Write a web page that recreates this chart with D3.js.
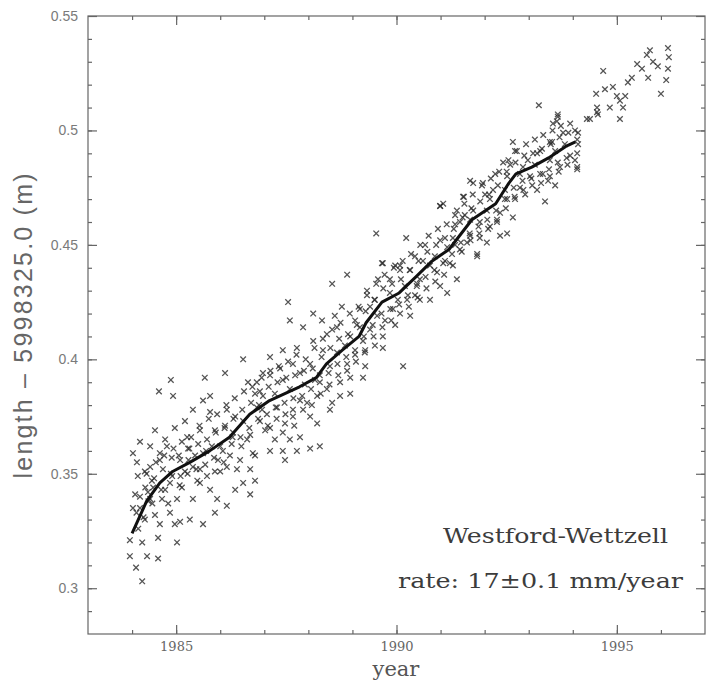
<!DOCTYPE html>
<html>
<head>
<meta charset="utf-8">
<script src="https://cdn.jsdelivr.net/npm/d3@7"></script>
<style>
  body { margin: 0; background: #fff; }
  svg { display: block; }
</style>
</head>
<body>
<div id="chart"></div>
<script>
// baseline length observations: [year, length - 5998325.0 m]
const scatterPoints = [
  [1984.23,0.303],[1984.09,0.309],[1983.95,0.314],[1984.34,0.314],[1984.59,0.313],
  [1984.23,0.320],[1984.59,0.322],[1985.02,0.320],[1984.63,0.328],[1984.97,0.328],
  [1985.09,0.329],[1985.61,0.328],[1984.52,0.332],[1984.18,0.335],[1984.02,0.335],
  [1984.86,0.333],[1985.31,0.330],[1985.88,0.333],[1986.15,0.336],[1985.02,0.339],
  [1984.82,0.337],[1985.38,0.339],[1985.93,0.339],[1986.52,0.346],[1986.38,0.352],
  [1986.00,0.351],[1985.54,0.346],[1985.13,0.344],[1984.45,0.347],[1984.13,0.349],
  [1984.18,0.340],[1984.11,0.355],[1984.41,0.353],[1984.63,0.356],[1984.02,0.359],
  [1984.18,0.364],[1984.41,0.362],[1984.63,0.359],[1984.79,0.362],[1984.52,0.369],
  [1984.97,0.370],[1985.25,0.366],[1985.54,0.369],[1985.09,0.356],[1985.38,0.353],
  [1985.70,0.349],[1986.15,0.353],[1986.61,0.365],[1986.29,0.368],[1986.00,0.362],
  [1985.61,0.359],[1986.74,0.359],[1985.77,0.377],[1986.15,0.378],[1985.38,0.378],
  [1985.61,0.382],[1986.52,0.373],[1986.83,0.379],
  [1986.52,0.400],[1986.11,0.394],[1985.65,0.392],[1984.88,0.391],[1984.61,0.386],
  [1984.93,0.384],[1986.63,0.390],[1985.77,0.384],
  [1984.29,0.330],[1984.41,0.339],[1984.75,0.343],[1984.91,0.349],[1985.20,0.351],
  [1985.43,0.358],[1985.27,0.361],[1985.81,0.362],[1985.88,0.369],[1986.11,0.371],
  [1986.34,0.375],[1985.95,0.356],[1986.22,0.358],[1986.45,0.356],[1986.68,0.352],
  [1985.20,0.373],[1984.75,0.365],[1985.54,0.352],[1985.77,0.343],[1986.34,0.343],
  [1986.68,0.341],[1986.79,0.347],[1983.95,0.321],[1984.29,0.351],[1984.36,0.342],
  [1988.54,0.433],[1987.54,0.425],[1987.58,0.417],[1988.11,0.420],[1988.60,0.419],
  [1988.76,0.423],[1987.88,0.414],[1988.31,0.417],[1988.88,0.437],[1988.95,0.392],
  [1989.24,0.392],[1988.95,0.385],[1988.54,0.381],[1988.20,0.372],[1988.04,0.375],
  [1988.26,0.362],[1988.04,0.361],[1987.74,0.360],[1987.42,0.360],[1987.13,0.360],
  [1986.79,0.358],[1987.47,0.356],[1987.81,0.366],[1987.42,0.368],[1987.13,0.370],
  [1987.65,0.375],[1987.13,0.401],[1987.42,0.404],[1987.74,0.405],[1988.11,0.408],
  [1988.42,0.411],[1988.65,0.414],[1988.95,0.410],[1988.33,0.404],[1988.65,0.403],
  [1988.88,0.398],[1988.72,0.390],[1988.42,0.387],[1988.20,0.384],[1987.97,0.381],
  [1987.65,0.378],[1987.29,0.379],[1986.97,0.384],[1986.83,0.390],[1987.13,0.393],
  [1987.42,0.391],[1987.81,0.394],[1988.04,0.398],[1987.65,0.398],[1987.36,0.396],
  [1986.97,0.394],
  [1986.90,0.373],[1987.24,0.385],[1987.58,0.387],[1987.92,0.389],[1988.26,0.393],
  [1988.49,0.397],[1987.02,0.369],[1987.81,0.382],[1988.15,0.391],[1988.49,0.378],
  [1988.72,0.384],[1987.47,0.372],[1986.79,0.385],[1986.95,0.378],[1987.24,0.365],
  [1987.58,0.365],[1988.83,0.406],[1989.06,0.402],
  [1991.83,0.446],[1991.15,0.429],[1990.15,0.397],[1989.69,0.442],[1989.29,0.397],
  [1989.69,0.410],[1989.69,0.405],[1989.17,0.414],[1989.24,0.408],[1989.33,0.430],
  [1989.85,0.429],[1989.40,0.423],[1990.08,0.439],[1990.47,0.433],[1990.24,0.426],
  [1989.92,0.422],[1989.56,0.419],[1990.60,0.443],[1990.92,0.438],[1991.21,0.442],
  [1991.37,0.435],[1990.76,0.426],[1990.31,0.419],
  [1989.54,0.455],[1990.22,0.453],[1990.99,0.467],[1991.53,0.471],[1989.67,0.442],
  [1990.08,0.441],[1990.42,0.445],[1991.67,0.478],
  [1989.17,0.422],[1989.51,0.426],[1989.85,0.435],[1989.97,0.441],[1990.31,0.439],
  [1990.53,0.435],[1990.65,0.450],[1990.87,0.445],[1990.99,0.452],[1991.10,0.443],
  [1990.76,0.441],[1991.33,0.450],[1990.19,0.432],[1990.42,0.428],[1989.74,0.417],
  [1989.97,0.415],[1989.40,0.413],[1989.06,0.417],[1989.29,0.404],[1989.51,0.406],
  [1990.53,0.426],[1990.99,0.432],[1989.58,0.435],[1990.03,0.426],
  [1993.66,0.507],[1993.55,0.503],[1994.32,0.505],[1994.55,0.508],[1993.78,0.499],
  [1993.48,0.495],[1992.64,0.495],[1992.69,0.491],[1993.26,0.491],[1993.19,0.490],
  [1994.10,0.496],[1994.10,0.490],[1994.10,0.484],[1994.10,0.483],[1992.42,0.486],
  [1992.87,0.484],[1993.03,0.480],[1992.51,0.480],[1993.32,0.481],[1993.19,0.474],
  [1992.80,0.475],[1991.74,0.477],[1991.96,0.477],[1992.19,0.474],[1993.37,0.469],
  [1992.51,0.470],[1992.12,0.470],[1991.51,0.471],[1991.37,0.465],[1991.74,0.465],
  [1992.05,0.465],[1992.35,0.464],[1992.64,0.462],[1991.89,0.460],[1991.67,0.461],
  [1991.44,0.460],[1992.12,0.458],[1992.51,0.455],[1992.35,0.454],[1991.89,0.453],
  [1991.28,0.453],[1991.60,0.451],[1991.15,0.449],[1991.83,0.445],[1992.05,0.451],
  [1991.06,0.468],[1990.99,0.467],
  [1992.46,0.474],[1992.80,0.481],[1992.98,0.487],[1993.14,0.485],[1993.48,0.487],
  [1993.60,0.491],[1993.82,0.494],[1993.94,0.489],[1993.71,0.484],[1992.24,0.481],
  [1992.01,0.472],[1991.55,0.463],[1991.33,0.459],[1992.28,0.460],[1992.69,0.470],
  [1992.92,0.472],[1993.44,0.478],[1993.60,0.476],[1994.05,0.500],[1994.12,0.494],
  [1994.05,0.487],[1992.58,0.485],[1991.67,0.454],[1991.44,0.448],
  [1996.16,0.536],[1996.18,0.532],[1995.75,0.535],[1995.68,0.533],[1995.82,0.530],
  [1995.46,0.529],[1996.16,0.527],[1995.93,0.528],[1995.71,0.523],[1995.57,0.527],
  [1995.34,0.523],[1995.25,0.521],[1996.12,0.522],[1996.00,0.516],[1994.69,0.526],
  [1994.91,0.519],[1994.73,0.518],[1994.53,0.516],[1995.00,0.515],[1995.07,0.513],
  [1995.19,0.515],[1995.14,0.510],[1994.84,0.510],[1994.55,0.510],[1994.57,0.507],
  [1994.39,0.505],[1995.07,0.505],[1993.23,0.511],[1993.66,0.506],[1993.64,0.504],
  [1993.53,0.495],[1994.12,0.499],
  // dense band close to the running mean
  [1984.10,0.333],[1984.14,0.326],[1984.07,0.341],
  [1984.30,0.344],[1984.26,0.331],[1984.33,0.350],[1984.37,0.338],
  [1984.50,0.348],[1984.46,0.337],[1984.54,0.355],[1984.48,0.344],
  [1984.70,0.352],[1984.66,0.343],[1984.73,0.358],[1984.68,0.339],
  [1984.90,0.357],[1984.86,0.346],[1984.94,0.361],[1984.88,0.350],
  [1985.10,0.349],[1985.06,0.358],[1985.13,0.364],[1985.08,0.345],
  [1985.30,0.361],[1985.26,0.350],[1985.34,0.366],[1985.28,0.356],
  [1985.50,0.363],[1985.46,0.352],[1985.53,0.371],[1985.48,0.347],
  [1985.70,0.365],[1985.66,0.354],[1985.74,0.374],[1985.68,0.360],
  [1985.90,0.368],[1985.86,0.357],[1985.93,0.376],[1985.88,0.351],
  [1986.10,0.370],[1986.06,0.360],[1986.14,0.380],[1986.08,0.355],
  [1986.30,0.374],[1986.26,0.363],[1986.33,0.383],[1986.28,0.366],
  [1986.50,0.378],[1986.46,0.366],[1986.54,0.386],[1986.48,0.362],
  [1986.70,0.381],[1986.66,0.370],[1986.73,0.388],[1986.68,0.367],
  [1986.90,0.386],[1986.86,0.374],[1986.94,0.392],[1986.88,0.380],
  [1987.10,0.388],[1987.06,0.376],[1987.14,0.395],[1987.08,0.371],
  [1987.30,0.390],[1987.26,0.379],[1987.33,0.397],[1987.28,0.374],
  [1987.50,0.392],[1987.46,0.381],[1987.54,0.399],[1987.48,0.376],
  [1987.70,0.393],[1987.66,0.383],[1987.73,0.402],[1987.68,0.371],
  [1987.90,0.395],[1987.86,0.384],[1987.94,0.400],[1987.88,0.378],
  [1988.10,0.396],[1988.06,0.387],[1988.14,0.405],[1988.08,0.380],
  [1988.30,0.401],[1988.26,0.390],[1988.33,0.409],[1988.28,0.385],
  [1988.50,0.405],[1988.46,0.394],[1988.54,0.413],[1988.48,0.389],
  [1988.70,0.409],[1988.66,0.398],[1988.73,0.416],[1988.68,0.393],
  [1988.90,0.411],[1988.86,0.401],[1988.94,0.420],[1988.88,0.395],
  [1989.10,0.415],[1989.06,0.404],[1989.14,0.423],[1989.08,0.399],
  [1989.30,0.421],[1989.26,0.410],[1989.33,0.428],[1989.28,0.403],
  [1989.50,0.426],[1989.46,0.415],[1989.54,0.433],[1989.48,0.410],
  [1989.70,0.431],[1989.66,0.420],[1989.73,0.437],[1989.68,0.414],
  [1989.90,0.433],[1989.86,0.422],[1989.94,0.440],[1989.88,0.417],
  [1990.10,0.435],[1990.06,0.424],[1990.14,0.443],[1990.08,0.420],
  [1990.30,0.439],[1990.26,0.428],[1990.33,0.446],[1990.28,0.423],
  [1990.50,0.443],[1990.46,0.432],[1990.54,0.450],[1990.48,0.427],
  [1990.70,0.447],[1990.66,0.436],[1990.73,0.454],[1990.68,0.431],
  [1990.90,0.450],[1990.86,0.439],[1990.94,0.457],[1990.88,0.434],
  [1991.10,0.453],[1991.06,0.442],[1991.14,0.459],[1991.08,0.437],
  [1991.30,0.457],[1991.26,0.446],[1991.33,0.463],[1991.28,0.441],
  [1991.50,0.462],[1991.46,0.451],[1991.54,0.468],[1991.48,0.447],
  [1991.70,0.466],[1991.66,0.455],[1991.73,0.472],[1991.68,0.452],
  [1991.90,0.469],[1991.86,0.458],[1991.94,0.476],[1991.88,0.455],
  [1992.10,0.472],[1992.06,0.461],[1992.14,0.479],[1992.08,0.457],
  [1992.30,0.476],[1992.26,0.465],[1992.33,0.482],[1992.28,0.461],
  [1992.50,0.482],[1992.46,0.470],[1992.54,0.487],[1992.48,0.466],
  [1992.70,0.486],[1992.66,0.475],[1992.73,0.491],[1992.68,0.471],
  [1992.90,0.489],[1992.86,0.478],[1992.94,0.494],[1992.88,0.474],
  [1993.10,0.490],[1993.06,0.479],[1993.14,0.496],[1993.08,0.476],
  [1993.30,0.492],[1993.26,0.481],[1993.33,0.498],[1993.28,0.477],
  [1993.50,0.494],[1993.46,0.483],[1993.54,0.500],[1993.48,0.480],
  [1993.70,0.497],[1993.66,0.486],[1993.73,0.502],[1993.68,0.482],
  [1993.90,0.499],[1993.86,0.488],[1993.94,0.503],[1993.88,0.485]
];

// running mean curve
const lineYears = [1984.00,1984.33,1984.63,1984.92,1985.31,1985.76,1986.21,1986.67,
  1987.12,1987.80,1988.18,1988.41,1988.77,1989.15,1989.31,1989.67,1990.06,1990.44,
  1990.81,1991.19,1991.71,1992.25,1992.55,1992.71,1993.07,1993.45,1993.84,1994.06];
const lineLengths = [0.324,0.338,0.346,0.351,0.355,0.360,0.366,0.376,
  0.382,0.388,0.392,0.398,0.404,0.410,0.416,0.425,0.429,0.436,
  0.443,0.448,0.461,0.468,0.477,0.481,0.484,0.488,0.493,0.495];

const xMajorTicks = [1985, 1990, 1995];
const xMinorTicks = d3.range(1984, 1997, 1);
const yMajorTicks = [0.3, 0.35, 0.4, 0.45, 0.5, 0.55];
const yMinorTicks = d3.range(29, 55, 1).map(d => d / 100);

const margin = { top: 16, right: 5, bottom: 50, left: 88 };
const width = 710 - margin.left - margin.right;
const height = 684 - margin.top - margin.bottom;

const svg = d3.select("#chart")
  .append("svg")
  .attr("width", 710)
  .attr("height", 684)
  .append("g")
  .attr("transform", `translate(${margin.left},${margin.top})`);

const x = d3.scaleLinear().domain([1983, 1997]).range([0, width]);
const y = d3.scaleLinear().domain([0.28, 0.55]).range([height, 0]);

// frame
svg.append("rect")
  .attr("width", width)
  .attr("height", height)
  .attr("fill", "none")
  .attr("stroke", "#666")
  .attr("stroke-width", 1.2);

function styleAxis(g) {
  g.select(".domain").remove();
  g.selectAll(".tick line").attr("stroke", "#666").attr("stroke-width", 1.2);
}

// minor ticks, all four sides, pointing inward
svg.append("g").call(d3.axisLeft(y).tickValues(yMinorTicks).tickSize(-4).tickFormat(""))
  .call(styleAxis);
svg.append("g").attr("transform", `translate(${width},0)`)
  .call(d3.axisRight(y).tickValues(yMinorTicks).tickSize(-4).tickFormat(""))
  .call(styleAxis);
svg.append("g").attr("transform", `translate(0,${height})`)
  .call(d3.axisBottom(x).tickValues(xMinorTicks).tickSize(-4).tickFormat(""))
  .call(styleAxis);
svg.append("g")
  .call(d3.axisTop(x).tickValues(xMinorTicks).tickSize(-4).tickFormat(""))
  .call(styleAxis);

// major ticks with labels
const yAxis = svg.append("g")
  .call(d3.axisLeft(y).tickValues(yMajorTicks).tickSize(-9).tickPadding(10)
    .tickFormat(d => d === 0.55 ? "0.55" : d3.format("")(d)))
  .call(styleAxis);
yAxis.selectAll("text")
  .style("font-family", "Liberation Sans, Arial, sans-serif")
  .style("font-size", "14px")
  .attr("fill", "#7a7a7a");

svg.append("g").attr("transform", `translate(${width},0)`)
  .call(d3.axisRight(y).tickValues(yMajorTicks).tickSize(-9).tickFormat(""))
  .call(styleAxis);

const xAxis = svg.append("g").attr("transform", `translate(0,${height})`)
  .call(d3.axisBottom(x).tickValues(xMajorTicks).tickSize(-9).tickPadding(8)
    .tickFormat(d3.format("d")))
  .call(styleAxis);
xAxis.selectAll("text")
  .style("font-family", "DejaVu Serif, serif")
  .style("font-size", "13px")
  .attr("fill", "#666");

svg.append("g")
  .call(d3.axisTop(x).tickValues(xMajorTicks).tickSize(-9).tickFormat(""))
  .call(styleAxis);

// scatter crosses
const s = 2.8;
svg.append("g")
  .selectAll("path")
  .data(scatterPoints)
  .enter().append("path")
  .attr("d", d => {
    const cx = x(d[0]), cy = y(d[1]);
    return `M${cx - s},${cy - s}L${cx + s},${cy + s}M${cx - s},${cy + s}L${cx + s},${cy - s}`;
  })
  .attr("stroke", "#2a2a2a")
  .attr("stroke-opacity", 0.8)
  .attr("stroke-width", 1.3)
  .attr("fill", "none");

// running mean
const lineData = lineYears.map((d, i) => [d, lineLengths[i]]);
svg.append("path")
  .datum(lineData)
  .attr("d", d3.line().x(d => x(d[0])).y(d => y(d[1])))
  .attr("fill", "none")
  .attr("stroke", "#111")
  .attr("stroke-width", 3)
  .attr("stroke-linejoin", "round");

// annotations
svg.append("text")
  .attr("x", 355)
  .attr("y", 527)
  .attr("textLength", 225)
  .attr("lengthAdjust", "spacingAndGlyphs")
  .style("font-family", "DejaVu Serif, serif")
  .style("font-size", "21px")
  .attr("fill", "#3c3c3c")
  .text("Westford-Wettzell");

svg.append("text")
  .attr("x", 310)
  .attr("y", 572)
  .attr("textLength", 285)
  .attr("lengthAdjust", "spacingAndGlyphs")
  .style("font-family", "DejaVu Serif, serif")
  .style("font-size", "21px")
  .attr("fill", "#3c3c3c")
  .text("rate: 17±0.1 mm/year");

// x-axis label
svg.append("text")
  .attr("x", 396 - margin.left)
  .attr("y", height + 42)
  .attr("text-anchor", "middle")
  .style("font-family", "DejaVu Serif, serif")
  .style("font-size", "21px")
  .attr("fill", "#555")
  .text("year");

// y-axis label
svg.append("text")
  .attr("transform", "rotate(-90)")
  .attr("x", -(326 - margin.top))
  .attr("y", 32 - margin.left)
  .attr("text-anchor", "middle")
  .attr("textLength", 305)
  .attr("lengthAdjust", "spacing")
  .style("font-family", "Liberation Sans, Arial, sans-serif")
  .style("font-size", "25px")
  .attr("fill", "#666")
  .text("length – 5998325.0 (m)");
</script>
</body>
</html>
